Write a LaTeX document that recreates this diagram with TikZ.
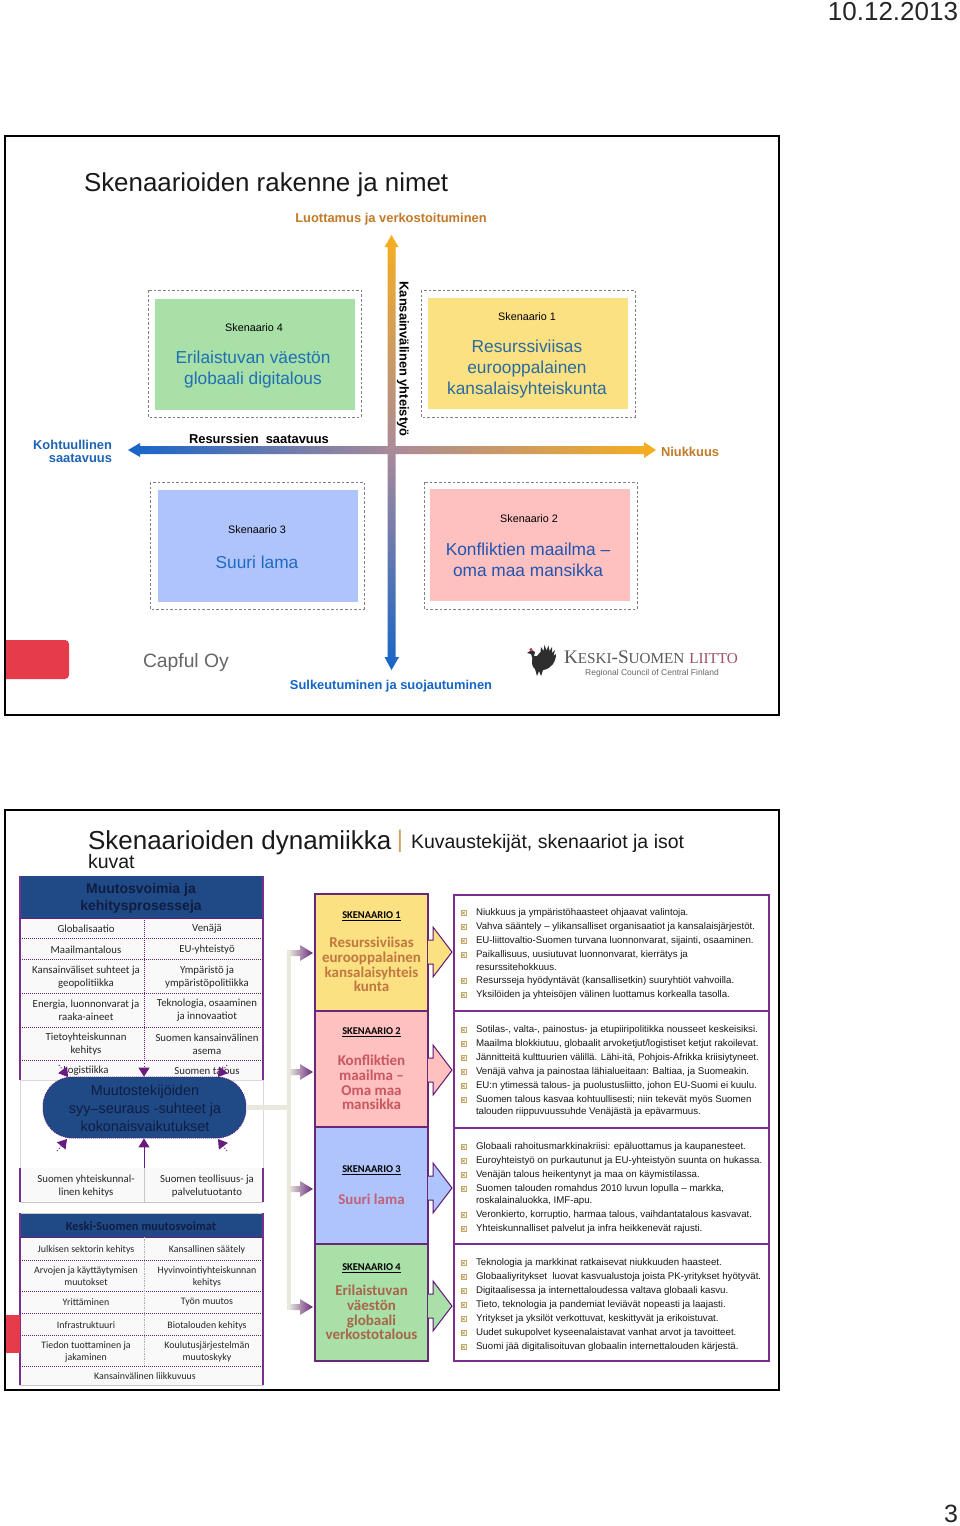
\documentclass[tikz,border=0pt]{standalone}
\usepackage{fontspec}
\setmainfont{Liberation Sans}
\newfontfamily\calfont{Carlito}
\newfontfamily\logofont{Liberation Serif}
\usetikzlibrary{arrows.meta}
\definecolor{scyellow}{HTML}{FCE183}
\definecolor{scpink}{HTML}{FFC0C0}
\definecolor{scblue}{HTML}{B0C4FC}
\definecolor{scgreen}{HTML}{A8E0A8}
\definecolor{navy}{HTML}{1F4A86}
\definecolor{navytxt}{HTML}{101C42}
\definecolor{plum}{HTML}{7A2E8E}
\definecolor{plumdark}{HTML}{6A1B80}
\definecolor{orangetxt}{HTML}{C27A28}
\definecolor{bluetxt}{HTML}{1F63B5}
\definecolor{axisorange}{HTML}{F7AE1E}
\definecolor{axismid}{HTML}{A98A9A}
\definecolor{axisblue}{HTML}{1565C8}
\definecolor{barsand}{HTML}{E8E8DC}
\definecolor{tabred}{HTML}{E63B4B}
\definecolor{bultan}{HTML}{C8A860}
\definecolor{nameA}{HTML}{2A6A9E}
\definecolor{nameB}{HTML}{2055B0}
\definecolor{nameC}{HTML}{1F6AC0}
\definecolor{nameD}{HTML}{1F6FB4}
\definecolor{pA}{HTML}{C0783F}
\definecolor{pB}{HTML}{C8585F}
\definecolor{pC}{HTML}{C0607A}
\definecolor{pD}{HTML}{A8654A}
\definecolor{liitto}{HTML}{A05060}
\tikzset{
  x=1pt,y=-1pt,
  txt/.style={inner sep=0pt,outer sep=0pt,align=center,yshift=-1pt},
  slideframe/.style={draw=black,line width=2pt,fill=white},
  dashbox/.style={draw=black!50,line width=0.7pt,dash pattern=on 2.6pt off 2pt},
  axislabel/.style={txt,font=\fontsize{12.9}{14}\selectfont\bfseries},
  sclabel/.style={txt,font=\fontsize{10.8}{13}\selectfont},
  scname/.style={txt,font=\fontsize{17.3}{21}\selectfont},
  celltxt/.style={txt,font=\calfont\fontsize{10.8}{12.7}\selectfont,text=black!85},
  celltxts/.style={txt,font=\calfont\fontsize{9.9}{12}\selectfont,text=black!85},
  dotline/.style={draw=plumdark,line width=0.9pt,dash pattern=on 1pt off 1pt},
  sideline/.style={draw=plum,line width=1.1pt},
  sch/.style={txt,font=\calfont\bfseries\fontsize{10.4}{12}\selectfont},
  scn/.style={txt,font=\calfont\bfseries\fontsize{15}{14.6}\selectfont},
  scbox/.style={draw=plum!85!black,line width=1.2pt},
  block/.style={draw=plumdark!90!black,line width=1pt,line join=miter},
  bodybox/.style={draw=plum,line width=1.1pt,fill=white},
  body/.style={inner sep=0pt,outer sep=0pt,anchor=west,yshift=-1pt,font=\fontsize{9.7}{11}\selectfont,text=black!90},
  headp/.style={-{Triangle[length=9pt,width=11pt]},plumdark,line width=1pt},
}
\newcommand{\bulletat}[1]{%
  \draw[bultan,line width=0.5pt] (461,#1-1.5) rectangle (466,#1+3.5);
  \draw[bultan!85!black,line width=0.5pt] (462,#1-.5) -- (465,#1+2.5) (462,#1+2.5) -- (465,#1-.5);
}
\newcommand{\scarrow}[1]{%
  \shade[left color=barsand,right color=plum!85!black] (289,#1-3) -- (300,#1-3) -- (300,#1-8) -- (313,#1) -- (300,#1+8) -- (300,#1+3) -- (289,#1+3) -- cycle;
}
\newcommand{\blockarrow}[2]{%
  \filldraw[block,fill=#2] (428,#1-12) -- (433,#1-12) -- (433,#1-25) -- (452,#1) -- (433,#1+25) -- (433,#1+12) -- (428,#1+12);
}
\begin{document}
\begin{tikzpicture}
\useasboundingbox (0,0) rectangle (960,1526);
\fill[white] (0,0) rectangle (960,1526);
\node[txt,font=\fontsize{26}{30}\selectfont,text=black!85] (date) at (893,11) {10.12.2013};
\node[txt,font=\fontsize{25}{30}\selectfont,text=black!85] (pageno) at (951,1513) {3};
% ---------- slide 1
\draw[slideframe] (5,136) rectangle (779,715);
\node[txt,anchor=base west,font=\fontsize{25.9}{30}\selectfont,text=black!90] (title1) at (84,190.5) {Skenaarioiden rakenne ja nimet};
\node[axislabel,text=orangetxt] (top) at (391,218) {Luottamus ja verkostoituminen};
\draw[dashbox] (148,290) rectangle (361,417);
\draw[dashbox] (421,290) rectangle (635,417);
\draw[dashbox] (150,482) rectangle (364,609);
\draw[dashbox] (424,482) rectangle (637,609);
\fill[scgreen] (155,299) rectangle (355,410);
\fill[scyellow] (428,298) rectangle (628,409);
\fill[scblue] (158,490) rectangle (358,602);
\fill[scpink] (430,489) rectangle (630,601);
\node[sclabel] (s4a) at (254,327) {Skenaario 4};
\node[scname,text=nameD] (s4b) at (253,369) {Erilaistuvan väestön\\globaali digitalous};
\node[sclabel] (s1a) at (527,316) {Skenaario 1};
\node[scname,text=nameA] (s1b) at (527,368) {Resurssiviisas \\eurooppalainen\\kansalaisyhteiskunta};
\node[sclabel] (s3a) at (257,529) {Skenaario 3};
\node[scname,text=nameC] (s3b) at (257,561) {Suuri lama};
\node[sclabel] (s2a) at (529,518) {Skenaario 2};
\node[scname,text=nameB] (s2b) at (528,559) {Konfliktien maailma –\\oma maa mansikka};
% axes
\shade[left color=axisblue,right color=axisorange,middle color=axismid]
 (128,450) -- (140,443) -- (140,446) -- (644,446) -- (644,442) -- (656,450) -- (644,458) -- (644,454) -- (140,454) -- (140,457) -- cycle;
\shade[top color=axisorange,bottom color=axisblue,middle color=axismid]
 (391.5,235) -- (398.5,247) -- (395.5,247) -- (395.5,657) -- (399,657) -- (391.5,670) -- (384.5,657) -- (387.5,657) -- (387.5,247) -- (384.5,247) -- cycle;
\node[axislabel,rotate=-90] (vert) at (403,358) {Kansainvälinen yhteistyö};
\node[axislabel] (horiz) at (259,438) {Resurssien\ \ saatavuus};
\node[axislabel,text=bluetxt,align=right,anchor=east,font=\fontsize{12.9}{13}\selectfont\bfseries] (left) at (112,450.5) {Kohtuullinen\\saatavuus};
\node[axislabel,text=orangetxt,anchor=west] (right) at (661,451) {Niukkuus};
\node[axislabel,text=axisblue] (bottom) at (391,685) {Sulkeutuminen ja suojautuminen};
% footer
\fill[tabred,rounded corners=4pt] (0,640) -- (69,640) -- (69,679) -- (0,679) -- cycle;
\fill[white] (0,630) rectangle (4,690);
\draw[black,line width=2pt] (5,630) -- (5,690);
\node[txt,anchor=west,font=\fontsize{19.3}{22}\selectfont,text=black!60] (capful) at (143,662) {Capful Oy};
% grouse logo
\fill[black!82] (533,656) .. controls (531,662) and (532,667) .. (535,669) -- (537,676) -- (539,671) -- (541,676) -- (543,670)
  .. controls (551,669) and (556,662) .. (556,654) -- (553.5,656) -- (555,650) -- (552,653) -- (552,647) -- (549.5,651) -- (548.5,645.5) -- (546.5,650.5) -- (544.5,645) -- (543.5,651) -- (541,647) -- (540.5,652) -- (537,656) -- cycle;
\fill[black!82] (533,660) -- (535,652) .. controls (534,650) and (531,650) .. (530,651) -- (527,653) -- (531,654) -- cycle;
\fill[tabred!85!black] (531,649.5) circle (1.6);
\node[txt,anchor=base west,font=\logofont\fontsize{19.2}{20}\selectfont,text=black!65] (logo1) at (564,662.5) {K{\fontsize{15.2}{20}\selectfont ESKI}-S{\fontsize{15.2}{20}\selectfont UOMEN} \textcolor{liitto}{{\fontsize{15.2}{20}\selectfont LIITTO}}};
\node[txt,font=\fontsize{8.5}{9}\selectfont,text=black!60] (logo2) at (652,672.5) {Regional Council of Central Finland};
% ---------- slide 2
\draw[slideframe] (5,810) rectangle (779,1390);
\node[txt,anchor=base west,font=\fontsize{26}{30}\selectfont,text=black!90] (title2) at (88,848.5) {Skenaarioiden dynamiikka};
\node[txt,font=\fontsize{24}{30}\selectfont,text=orangetxt!70] (sep) at (400,840) {|};
\node[txt,anchor=base west,font=\fontsize{19.5}{24}\selectfont,text=black!90] (sub1) at (411,847.5) {Kuvaustekijät, skenaariot ja isot};
\node[txt,anchor=base west,font=\fontsize{19.5}{24}\selectfont,text=black!90] (sub2) at (88,867.5) {kuvat};
% left table 1
\fill[navy] (20,876) rectangle (263,918);
\node[txt,font=\bfseries\fontsize{14}{17}\selectfont,text=navytxt] (h1) at (141,897.5) {Muutosvoimia ja\\kehitysprosesseja};
\fill[black!2.5] (20,918) rectangle (263,1080);
\draw[black!15,line width=1pt] (20,1080) rectangle (263,1168);
\draw[sideline] (20,876) -- (20,1080) (263,876) -- (263,1080);
\draw[plumdark,line width=1pt] (20,918) -- (263,918);
\foreach \ya in {938,959,993,1027,1060} \draw[dotline] (20,\ya) -- (263,\ya);
\draw[dotline] (144,918) -- (144,1060);
\node[celltxt] (a1) at (86,928) {Globalisaatio};
\node[celltxt] (a2) at (207,928) {Venäjä};
\node[celltxt] (b1) at (86,949) {Maailmantalous};
\node[celltxt] (b2) at (207,949) {EU-yhteistyö};
\node[celltxt] (c1) at (86,976) {Kansainväliset suhteet ja\\geopolitiikka};
\node[celltxt] (c2) at (207,976) {Ympäristö ja\\ympäristöpolitiikka};
\node[celltxt] (d1) at (86,1009.5) {Energia, luonnonvarat ja\\raaka-aineet};
\node[celltxt] (d2) at (207,1009.5) {Teknologia, osaaminen\\ja innovaatiot};
\node[celltxt] (e1) at (86,1043) {Tietoyhteiskunnan\\kehitys};
\node[celltxt] (e2) at (207,1043) {Suomen kansainvälinen\\asema};
\node[celltxt] (f1) at (86,1070) {Logistiikka};
\node[celltxt] (f2) at (207,1070) {Suomen talous};
% lower part
\fill[black!2.5] (20,1168) rectangle (263,1202);
\draw[black!22,line width=1pt] (20,1202) -- (263,1202);
\draw[black!22,line width=0.6pt] (144,1168) -- (144,1202);
\draw[sideline] (20,1168) -- (20,1202) (263,1168) -- (263,1202);
\node[celltxt] (g1) at (86,1185) {Suomen yhteiskunnal-\\linen kehitys};
\node[celltxt] (g2) at (207,1185) {Suomen teollisuus- ja\\palvelutuotanto};
% hub and its arrows
\node[draw=plumdark,dash pattern=on 1pt off 1pt,line width=0.8pt,fill=navy,rounded corners=29pt,minimum width=203pt,minimum height=61pt,inner sep=0pt] (nexus) at (144.5,1107.5) {};
\node[txt,font=\fontsize{14.4}{18}\selectfont,text=navytxt] (nexustxt) at (145,1107) {Muutostekijöiden\\syy–seuraus -suhteet ja\\kokonaisvaikutukset};
\coordinate (tl) at (59,1065);
\coordinate (tr) at (227,1065);
\coordinate (bl) at (57,1151);
\coordinate (br) at (227,1151);
\coordinate (tc) at (144,1060);
\coordinate (bc) at (144,1168);
\coordinate (tlend) at (68,1077);
\coordinate (trend) at (218,1077);
\coordinate (blend) at (67,1139);
\coordinate (brend) at (218,1139);
\draw[headp,dotted] (tc) -- (tc |- nexus.north);
\draw[headp] (bc) -- (bc |- nexus.south);
\draw[headp,dotted] (tl) -- (tlend);
\draw[headp,dotted] (tr) -- (trend);
\draw[headp,dotted] (bl) -- (blend);
\draw[headp,dotted] (br) -- (brend);
\draw[barsand,line width=5pt] (nexus.east) -- (289,1107.5);
\draw[barsand,line width=4.5pt] (289,950) -- (289,1310);
\scarrow{953}
\scarrow{1072}
\scarrow{1189}
\scarrow{1307}
% Keski-Suomi table
\fill[navy] (20,1213) rectangle (263,1237);
\draw[black!20,line width=1pt] (20,1213) -- (263,1213);
\node[txt,font=\calfont\bfseries\fontsize{12.4}{14}\selectfont,text=navytxt] (h2) at (141,1225.5) {Keski-Suomen muutosvoimat};
\fill[black!2.5] (20,1237) rectangle (263,1385);
\draw[sideline] (20,1213) -- (20,1385) (263,1213) -- (263,1385);
\draw[black!22,line width=0.9pt] (20,1385) -- (263,1385);
\draw[plumdark,line width=0.8pt] (20,1237) -- (263,1237);
\foreach \ya in {1260,1291,1313,1335,1366} \draw[dotline] (20,\ya) -- (263,\ya);
\draw[black!30,densely dotted,line width=0.7pt] (144,1237) -- (144,1366);
\fill[tabred] (6,1315) rectangle (19.5,1353);
\node[celltxts] (h1a) at (86,1248.5) {Julkisen sektorin kehitys};
\node[celltxts] (h2a) at (207,1248.5) {Kansallinen säätely};
\node[celltxts] (i1) at (86,1275.5) {Arvojen ja käyttäytymisen\\muutokset};
\node[celltxts] (i2) at (207,1275.5) {Hyvinvointiyhteiskunnan\\kehitys};
\node[celltxts] (j1) at (86,1301.5) {Yrittäminen};
\node[celltxts] (j2) at (207,1301.5) {Työn muutos};
\node[celltxts] (k1) at (86,1324.5) {Infrastruktuuri};
\node[celltxts] (k2) at (207,1324.5) {Biotalouden kehitys};
\node[celltxts] (l1) at (86,1350.5) {Tiedon tuottaminen ja\\jakaminen};
\node[celltxts] (l2) at (207,1350.5) {Koulutusjärjestelmän\\muutoskyky};
\node[celltxts] (m1) at (145,1375.5) {Kansainvälinen liikkuvuus};
% scenario column
\filldraw[scbox,fill=scyellow] (315,894) rectangle (428,1011);
\filldraw[scbox,fill=scpink] (315,1011) rectangle (428,1127);
\filldraw[scbox,fill=scblue] (315,1127) rectangle (428,1244);
\filldraw[scbox,fill=scgreen] (315,1244) rectangle (428,1361);
\blockarrow{952}{scyellow}
\blockarrow{1070}{scpink}
\blockarrow{1188}{scblue}
\blockarrow{1306}{scgreen}
\node[sch] (p1) at (371.5,915) {\underline{SKENAARIO 1}};
\node[scn,text=pA] (p1n) at (371.5,963.5) {Resurssiviisas\\eurooppalainen\\kansalaisyhteis\\kunta};
\node[sch] (p2) at (371.5,1031) {\underline{SKENAARIO 2}};
\node[scn,text=pB] (p2n) at (371.5,1081.5) {Konfliktien\\maailma –\\Oma maa\\mansikka};
\node[sch] (p3) at (371.5,1169) {\underline{SKENAARIO 3}};
\node[scn,text=pC] (p3n) at (371.5,1198.5) {Suuri lama};
\node[sch] (p4) at (371.5,1267) {\underline{SKENAARIO 4}};
\node[scn,text=pD] (p4n) at (371.5,1311.5) {Erilaistuvan\\väestön\\globaali\\verkostotalous};
% description boxes
\draw[bodybox] (454,895) rectangle (769,1011);
\draw[bodybox] (454,1011) rectangle (769,1128);
\draw[bodybox] (454,1128) rectangle (769,1244);
\draw[bodybox] (454,1244) rectangle (769,1361);
\foreach \ya in {912,926,940,954,980,994,1029,1043,1057,1071,1085,1099,1146,1160,1174,1188,1214,1228,1262,1276,1290,1304,1318,1332,1346} {\bulletat{\ya}}
\node[body] (t1) at (476,912) {Niukkuus ja ympäristöhaasteet ohjaavat valintoja.};
\node[body] (t2) at (476,926) {Vahva sääntely – ylikansalliset organisaatiot ja kansalaisjärjestöt.};
\node[body] (t3) at (476,940) {EU-liittovaltio-Suomen turvana luonnonvarat, sijainti, osaaminen.};
\node[body] (t4) at (476,954) {Paikallisuus, uusiutuvat luonnonvarat, kierrätys ja};
\node[body] (t4b) at (476,966) {resurssitehokkuus.};
\node[body] (t5) at (476,980) {Resursseja hyödyntävät (kansallisetkin) suuryhtiöt vahvoilla.};
\node[body] (t6) at (476,994) {Yksilöiden ja yhteisöjen välinen luottamus korkealla tasolla.};
\node[body] (u1) at (476,1029) {Sotilas-, valta-, painostus- ja etupiiripolitikka nousseet keskeisiksi.};
\node[body] (u2) at (476,1043) {Maailma blokkiutuu, globaalit arvoketjut/logistiset ketjut rakoilevat.};
\node[body] (u3) at (476,1057) {Jännitteitä kulttuurien välillä. Lähi-itä, Pohjois-Afrikka kriisiytyneet.};
\node[body] (u4) at (476,1071) {Venäjä vahva ja painostaa lähialueitaan: Baltiaa, ja Suomeakin.};
\node[body] (u5) at (476,1085) {EU:n ytimessä talous- ja puolustusliitto, johon EU-Suomi ei kuulu.};
\node[body] (u6) at (476,1099) {Suomen talous kasvaa kohtuullisesti; niin tekevät myös Suomen};
\node[body] (u6b) at (476,1111) {talouden riippuvuussuhde Venäjästä ja epävarmuus.};
\node[body] (v1) at (476,1146) {Globaali rahoitusmarkkinakriisi: epäluottamus ja kaupanesteet.};
\node[body] (v2) at (476,1160) {Euroyhteistyö on purkautunut ja EU-yhteistyön suunta on hukassa.};
\node[body] (v3) at (476,1174) {Venäjän talous heikentynyt ja maa on käymistilassa.};
\node[body] (v4) at (476,1188) {Suomen talouden romahdus 2010 luvun lopulla – markka,};
\node[body] (v4b) at (476,1200) {roskalainaluokka, IMF-apu.};
\node[body] (v5) at (476,1214) {Veronkierto, korruptio, harmaa talous, vaihdantatalous kasvavat.};
\node[body] (v6) at (476,1228) {Yhteiskunnalliset palvelut ja infra heikkenevät rajusti.};
\node[body] (w1) at (476,1262) {Teknologia ja markkinat ratkaisevat niukkuuden haasteet.};
\node[body] (w2) at (476,1276) {Globaaliyritykset\ \ luovat kasvualustoja joista PK-yritykset hyötyvät.};
\node[body] (w3) at (476,1290) {Digitaalisessa ja internettaloudessa valtava globaali kasvu.};
\node[body] (w4) at (476,1304) {Tieto, teknologia ja pandemiat leviävät nopeasti ja laajasti.};
\node[body] (w5) at (476,1318) {Yritykset ja yksilöt verkottuvat, keskittyvät ja erikoistuvat.};
\node[body] (w6) at (476,1332) {Uudet sukupolvet kyseenalaistavat vanhat arvot ja tavoitteet.};
\node[body] (w7) at (476,1346) {Suomi jää digitalisoituvan globaalin internettalouden kärjestä.};
\end{tikzpicture}
\end{document}
